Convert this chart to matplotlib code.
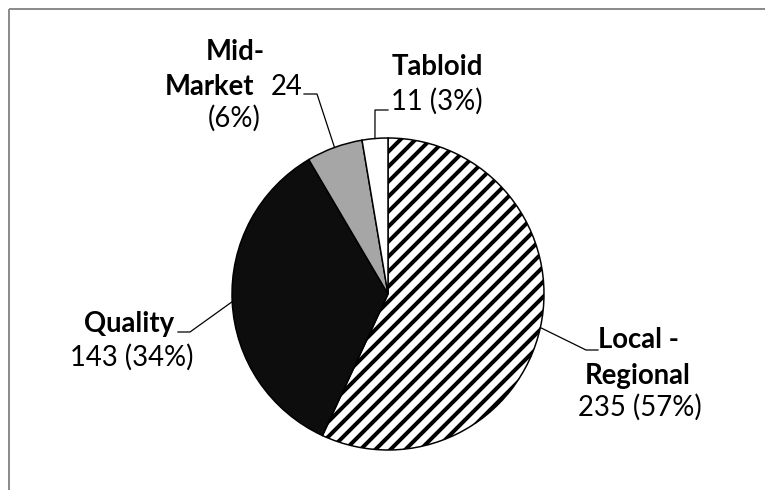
import numpy as np
import matplotlib as mpl
import matplotlib.pyplot as plt

# newspaper types, counts and shares as printed on the chart
categories = ['Local - Regional', 'Quality', 'Mid-Market', 'Tabloid']
counts = [235, 143, 24, 11]
percents = [57, 34, 6, 3]
fills = ['white', '#0d0d0d', '#a6a6a6', 'white']
hatches = ['//', None, None, None]

W, H = 765, 490
DPI = 90

mpl.rcParams['hatch.linewidth'] = 3.2
mpl.rcParams['font.family'] = ['Lato', 'DejaVu Sans']
FS = 22

fig = plt.figure(figsize=(W / DPI, H / DPI), dpi=DPI)
ax = fig.add_axes([0, 0, 1, 1])

# pie in pixel-like coords, y pointing down
cx, cy, r = 388, 294, 156
wedges, _ = ax.pie(counts, colors=fills, startangle=270, counterclock=True,
                   center=(cx, cy), radius=r,
                   wedgeprops=dict(edgecolor='black', linewidth=1.2))
for w, h in zip(wedges, hatches):
    if h:
        w.set_hatch(h)

ax.set_xlim(0, W)
ax.set_ylim(H, 0)
ax.set_aspect('auto')
ax.axis('off')

# chart border (only top and left visible in the crop)
ax.plot([9.5, W], [8.5, 8.5], color='#8c8c8c', lw=1.6, solid_capstyle='butt')
ax.plot([9.5, 9.5], [8.5, H], color='#8c8c8c', lw=1.6, solid_capstyle='butt')

# leader lines: edge at wedge middle -> elbow -> end
leaders = {
    'Local - Regional': [(586, 350), (598, 350)],
    'Quality': [(190, 332), (178, 332)],
    'Mid-Market': [(317, 94), (304, 94)],
    'Tabloid': [(375, 110), (388, 110)],
}
for w, cat in zip(wedges, categories):
    mid = np.deg2rad((w.theta1 + w.theta2) / 2)
    ex, ey = cx + r * np.cos(mid), cy + r * np.sin(mid)
    pts = [(ex, ey)] + leaders[cat]
    ax.plot([p[0] for p in pts], [p[1] for p in pts], color='black', lw=1.0)

def txt(x, y, s, bold=False, ha='center'):
    ax.text(x, y, s, fontsize=FS, fontweight='bold' if bold else 'normal',
            ha=ha, va='baseline', color='black')

# Local - Regional
txt(639, 348, 'Local -', bold=True)
txt(638, 384, 'Regional', bold=True)
txt(640, 416, f'{counts[0]} ({percents[0]}%)')

# Quality
txt(129, 332, 'Quality', bold=True)
txt(132, 366, f'{counts[1]} ({percents[1]}%)')

# Mid-Market
txt(235, 60, 'Mid-', bold=True)
txt(254, 95, 'Market', bold=True, ha='right')
txt(271, 95, f'{counts[2]}', ha='left')
txt(234, 127, f'({percents[2]}%)')

# Tabloid
txt(437, 75, 'Tabloid', bold=True)
txt(437, 110, f'{counts[3]} ({percents[3]}%)')

fig.savefig('out.png', dpi=DPI)
